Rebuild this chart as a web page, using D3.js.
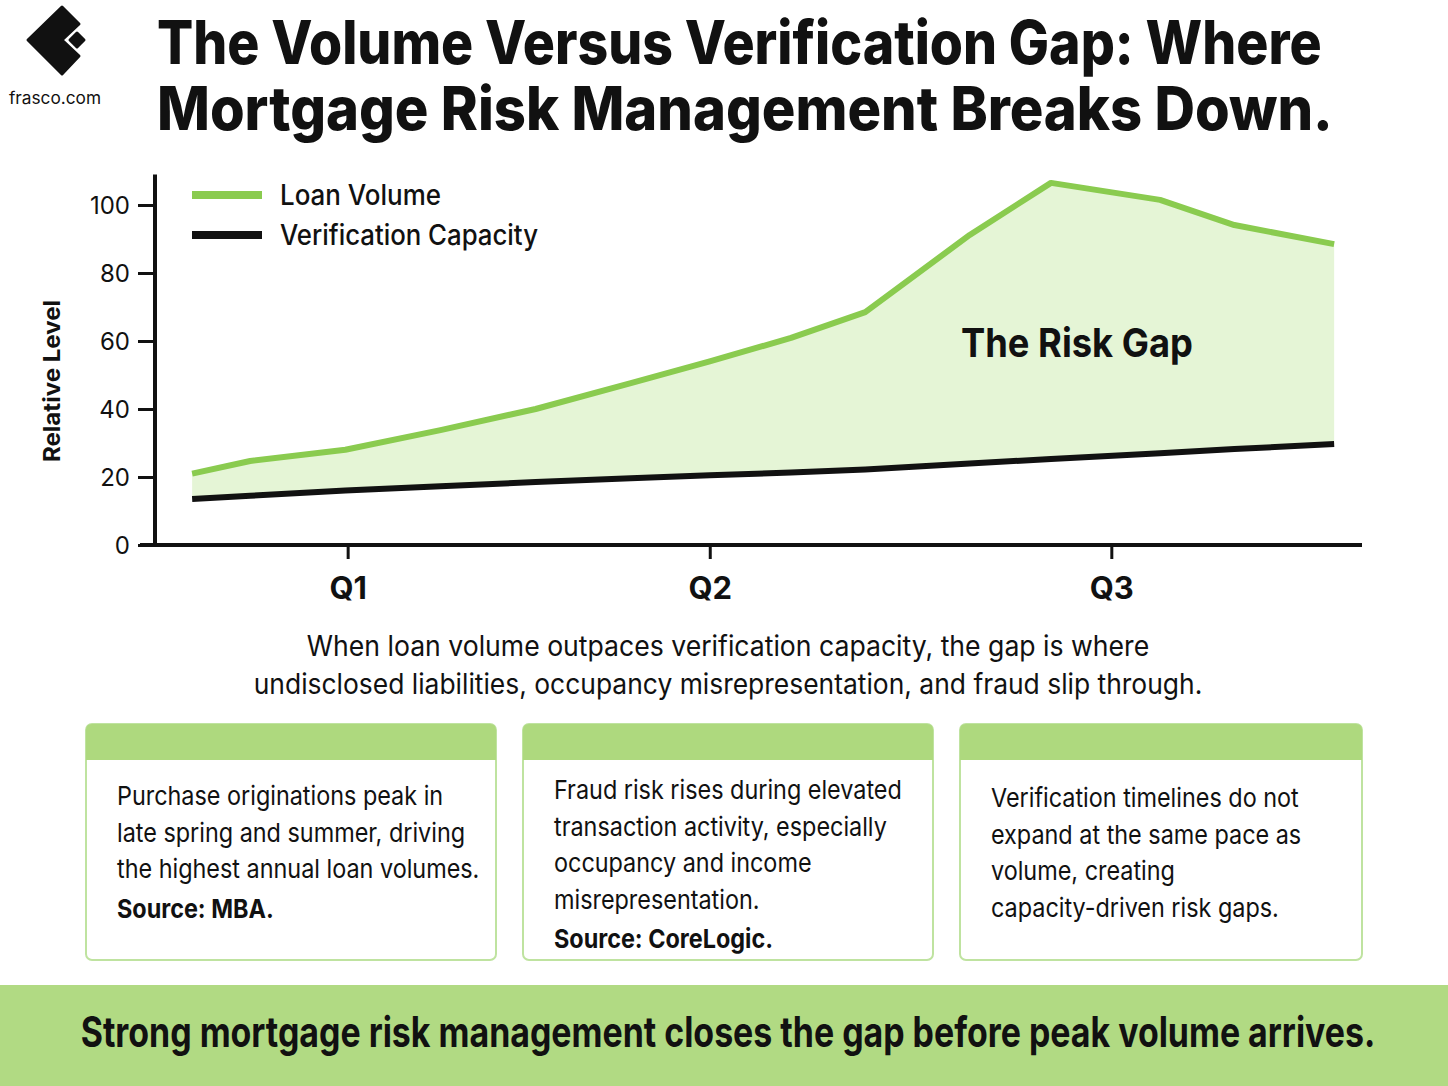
<!DOCTYPE html>
<html>
<head>
<meta charset="utf-8">
<title>Volume Versus Verification Gap</title>
<style>
  html, body { margin: 0; padding: 0; background: #fff; }
  svg { display: block; font-family: Inter, "Noto Sans", sans-serif; }
</style>
</head>
<body>
<svg id="svg" width="1448" height="1086"></svg>
<script src="https://d3js.org/d3.v7.min.js"></script>
<script>
// data (x in weeks of the year, y relative level)
const weeks = [1.6, 4.1, 8.2, 12.3, 16.4, 20.5, 23.9, 27.4, 30.6, 35.1, 38.6, 43.3, 46.5, 50.8]
const loanVolume = [21, 24.7, 28, 33.8, 40, 47.6, 54, 60.9, 68.5, 91.2, 106.5, 101.5, 94.1, 88.5]
const verificationCapacity = [13.5, 14.5, 16, 17.3, 18.5, 19.6, 20.5, 21.3, 22.2, 24, 25.3, 27, 28.2, 29.7]
const quarterLabels = ['Q1', 'Q2', 'Q3']
const quarterWeeks = [8.3, 23.9, 41.2]
const yTicks = [0, 20, 40, 60, 80, 100]
const seriesNames = ['Loan Volume', 'Verification Capacity']

const titleLines = ['The Volume Versus Verification Gap: Where', 'Mortgage Risk Management Breaks Down.']
const captionLines = [
  'When loan volume outpaces verification capacity, the gap is where',
  'undisclosed liabilities, occupancy misrepresentation, and fraud slip through.'
]
const cardTexts = [
  ['Purchase originations peak in', 'late spring and summer, driving', 'the highest annual loan volumes.'],
  ['Fraud risk rises during elevated', 'transaction activity, especially', 'occupancy and income', 'misrepresentation.'],
  ['Verification timelines do not', 'expand at the same pace as', 'volume, creating', 'capacity-driven risk gaps.']
]
const cardSources = ['Source: MBA.', 'Source: CoreLogic.', '']
const footerText = 'Strong mortgage risk management closes the gap before peak volume arrives.'

const GREEN = '#8acb4f'
const FILL = '#e5f5d6'
const BAND = '#aed97e'

const svg = d3.select('#svg')

// text squeezed horizontally (condensed look) with a scale transform
function label(parent, str, x, y, opts) {
  const t = parent.append('text')
    .attr('text-anchor', opts.anchor || 'start')
    .attr('font-size', opts.size)
    .attr('font-weight', opts.weight || 400)
    .attr('fill', '#111')
    .text(str)
  const len = t.node().getComputedTextLength()
  const sx = opts.width ? opts.width / len : (opts.sx || 1)
  t.attr('transform', `translate(${x},${y}) scale(${sx},1)`)
  return t
}

// logo
const logo = svg.append('g')
logo.append('path')
  .attr('d', 'M28,40 L62,7 L79,24 L62,40 L79,56 L62,74 Z')
  .attr('fill', '#111').attr('stroke', '#111')
  .attr('stroke-width', 3).attr('stroke-linejoin', 'round')
logo.append('path')
  .attr('d', 'M77,33 L84,40 L77,47 L70,40 Z')
  .attr('fill', '#111').attr('stroke', '#111')
  .attr('stroke-width', 3).attr('stroke-linejoin', 'round')
label(svg, 'frasco.com', 9, 104, { size: 17, width: 92 })

// title
const titleW = [1165, 1176]
titleLines.forEach((d, i) => label(svg, d, 157, 64 + i * 66, { size: 60, weight: 800, width: titleW[i] }))

// chart scales
const x = d3.scaleLinear().domain([0, 52]).range([155, 1362])
const y = d3.scaleLinear().domain([0, 100]).range([545, 205])

const rows = weeks.map((w, i) => ({ w, vol: loanVolume[i], cap: verificationCapacity[i] }))

// gap area
svg.append('path')
  .attr('d', d3.area().x(d => x(d.w)).y0(d => y(d.cap)).y1(d => y(d.vol))(rows))
  .attr('fill', FILL)

svg.append('path')
  .attr('d', d3.line().x(d => x(d.w)).y(d => y(d.cap))(rows))
  .attr('fill', 'none').attr('stroke', '#111').attr('stroke-width', 6)

svg.append('path')
  .attr('d', d3.line().x(d => x(d.w)).y(d => y(d.vol))(rows))
  .attr('fill', 'none').attr('stroke', GREEN).attr('stroke-width', 6)
  .attr('stroke-linejoin', 'round')

// y axis
const yAxis = svg.append('g').attr('transform', 'translate(155,0)')
  .call(d3.axisLeft(y).tickValues(yTicks).tickSize(17).tickSizeOuter(0).tickPadding(8))
yAxis.select('.domain').remove()
yAxis.selectAll('.tick line').attr('stroke', '#111').attr('stroke-width', 3)
yAxis.selectAll('.tick text').attr('font-size', 24).attr('fill', '#111')
  .attr('font-family', 'Inter, sans-serif').attr('dy', '0.35em')
svg.append('line').attr('x1', 155).attr('x2', 155).attr('y1', y(109)).attr('y2', y(0) + 1.5)
  .attr('stroke', '#111').attr('stroke-width', 4)

// x axis
const xAxis = svg.append('g').attr('transform', `translate(0,${y(0)})`)
  .call(d3.axisBottom(x).tickValues(quarterWeeks).tickFormat((d, i) => quarterLabels[i])
    .tickSize(14).tickSizeOuter(0).tickPadding(18))
xAxis.select('.domain').remove()
xAxis.selectAll('.tick line').attr('stroke', '#111').attr('stroke-width', 3)
xAxis.selectAll('.tick text').attr('font-size', 31).attr('font-weight', 700).attr('fill', '#111')
  .attr('font-family', 'Inter, sans-serif')
svg.append('line').attr('x1', 140).attr('x2', 1362).attr('y1', y(0)).attr('y2', y(0))
  .attr('stroke', '#111').attr('stroke-width', 4)

// y label
svg.append('text')
  .attr('transform', 'translate(60,381) rotate(-90)')
  .attr('text-anchor', 'middle').attr('font-size', 23).attr('font-weight', 700).attr('fill', '#111')
  .attr('textLength', 162).attr('lengthAdjust', 'spacingAndGlyphs')
  .text('Relative Level')

// legend
const legendW = [161, 258]
const legend = svg.append('g')
legend.selectAll('line').data(seriesNames).join('line')
  .attr('x1', 192).attr('x2', 262)
  .attr('y1', (d, i) => 195 + i * 40).attr('y2', (d, i) => 195 + i * 40)
  .attr('stroke', (d, i) => i === 0 ? GREEN : '#111').attr('stroke-width', 8)
seriesNames.forEach((d, i) => label(legend, d, 280, 205 + i * 40, { size: 28, weight: 500, width: legendW[i] }))

// risk gap label
label(svg, 'The Risk Gap', 961, 357, { size: 40, weight: 700, width: 232 })

// caption
const capW = [843, 949]
captionLines.forEach((d, i) => label(svg, d, 728, 656 + i * 38, { size: 28, anchor: 'middle', width: capW[i] }))

// cards
const cardX = [86, 523, 960]
const cardW = [410, 410, 402]
const cardTop = [805, 799, 807]
cardTexts.forEach((lines, c) => {
  const g = svg.append('g')
  g.append('rect').attr('x', cardX[c]).attr('y', 724).attr('width', cardW[c]).attr('height', 236)
    .attr('rx', 6).attr('fill', '#fff').attr('stroke', '#bfe3a0').attr('stroke-width', 2)
  g.append('path')
    .attr('d', `M${cardX[c]},760 V730 Q${cardX[c]},724 ${cardX[c] + 6},724 H${cardX[c] + cardW[c] - 6} Q${cardX[c] + cardW[c]},724 ${cardX[c] + cardW[c]},730 V760 Z`)
    .attr('fill', BAND)
  lines.forEach((d, i) => label(g, d, cardX[c] + 31, cardTop[c] + i * 36.5, { size: 26, sx: 0.9 }))
  if (cardSources[c]) {
    label(g, cardSources[c], cardX[c] + 31, cardTop[c] + lines.length * 36.5 + 3, { size: 26, weight: 700, sx: 0.9 })
  }
})

// footer band
svg.append('rect').attr('x', 0).attr('y', 985).attr('width', 1448).attr('height', 101).attr('fill', '#b1da83')
label(svg, footerText, 728, 1047, { size: 42, weight: 700, anchor: 'middle', width: 1295 })
</script>
</body>
</html>
